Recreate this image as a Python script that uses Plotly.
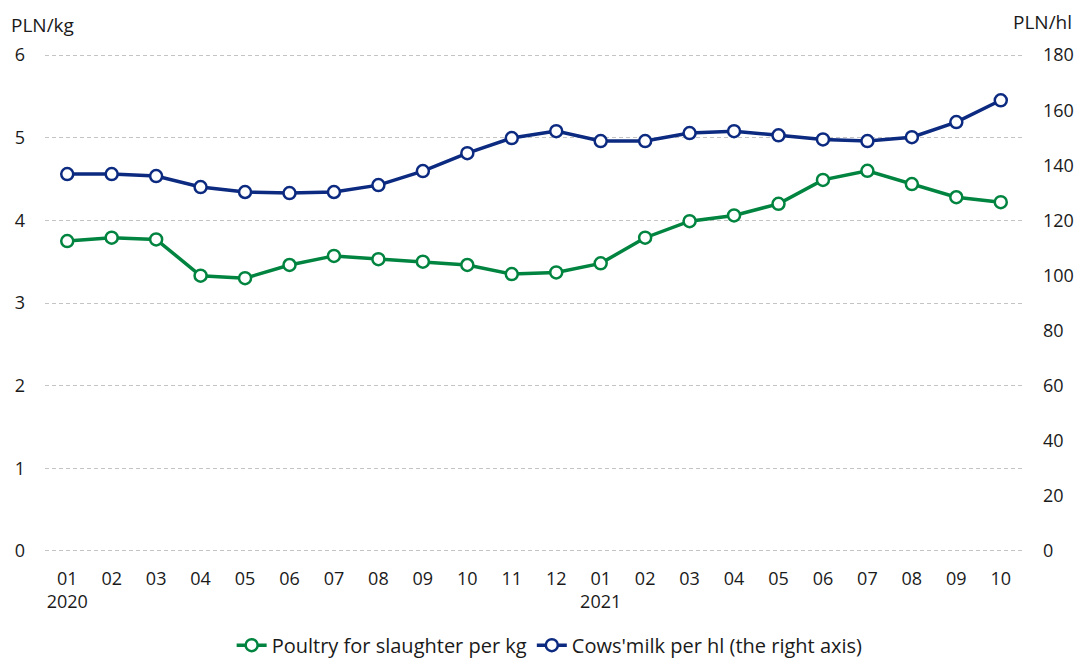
import plotly.graph_objects as go

months = ["01", "02", "03", "04", "05", "06", "07", "08", "09", "10", "11", "12",
          "01", "02", "03", "04", "05", "06", "07", "08", "09", "10"]
years = ["2020", "", "", "", "", "", "", "", "", "", "", "",
         "2021", "", "", "", "", "", "", "", "", ""]
poultry = [3.75, 3.79, 3.77, 3.33, 3.30, 3.46, 3.57, 3.53, 3.50, 3.46, 3.35, 3.37,
           3.48, 3.79, 3.99, 4.06, 4.20, 4.49, 4.60, 4.44, 4.28, 4.22]
milk = [136.8, 136.8, 136.1, 132.1, 130.3, 129.9, 130.3, 132.8, 137.9, 144.4, 149.9, 152.4,
        148.8, 148.8, 151.7, 152.4, 150.9, 149.4, 148.8, 150.2, 155.7, 163.6]

green = "#00843f"
navy = "#0b2a80"
FONT = "Open Sans"

x = list(range(len(months)))
ticktext = [m + ("<br>" + y if y else "") for m, y in zip(months, years)]

fig = go.Figure()
fig.add_trace(go.Scatter(
    x=x, y=poultry, name="Poultry for slaughter per kg", mode="lines+markers",
    line=dict(color=green, width=3.5),
    marker=dict(size=12, color="white", line=dict(color=green, width=2.5)),
))
fig.add_trace(go.Scatter(
    x=x, y=milk, name="Cows'milk per hl (the right axis)", mode="lines+markers", yaxis="y2",
    line=dict(color=navy, width=3.5),
    marker=dict(size=12, color="white", line=dict(color=navy, width=2.5)),
))

W, H = 1077, 658
L, R, T, B = 45, 54, 51, 103
fig.update_layout(
    width=W, height=H,
    margin=dict(l=L, r=R, t=T, b=B, autoexpand=False),
    plot_bgcolor="white", paper_bgcolor="white",
    font=dict(family=FONT, size=18, color="#1a1a1a"),
    xaxis=dict(tickmode="array", tickvals=x, ticktext=ticktext, range=[-0.5, 21.5],
               showgrid=False, zeroline=False, showline=False, ticks="",
               ticklabelstandoff=11, automargin=False, tickfont=dict(size=18)),
    yaxis=dict(range=[-0.05, 6.05], tickvals=[0, 1, 2, 3, 4, 5, 6], showgrid=True,
               gridcolor="#c4c4c4", griddash="4px,3px", gridwidth=1, zeroline=False,
               showline=False, ticks="", ticklabelstandoff=19, automargin=False,
               tickfont=dict(size=18)),
    yaxis2=dict(range=[-1.5, 181.5], tickvals=list(range(0, 181, 20)), overlaying="y",
                side="right", showgrid=False, zeroline=False, showline=False, ticks="",
                ticklabelstandoff=19, automargin=False, tickfont=dict(size=18)),
    legend=dict(orientation="h", x=0.516, xanchor="center", y=-0.179, yanchor="middle",
                font=dict(size=20), tracegroupgap=0),
    showlegend=True,
)
pw = W - L - R
ph = H - T - B
fig.add_annotation(text="PLN/kg", x=(9 - L) / pw, y=(H - B - 25) / ph, xref="paper",
                   yref="paper", showarrow=False, xanchor="left", yanchor="middle",
                   font=dict(size=19))
fig.add_annotation(text="PLN/hl", x=(1074 - L) / pw, y=(H - B - 22) / ph, xref="paper",
                   yref="paper", showarrow=False, xanchor="right", yanchor="middle",
                   font=dict(size=19))

fig.write_html(
    "out.html",
    config={"displayModeBar": False},
    post_script="document.documentElement.style.margin='0';document.body.style.margin='0';"
                "document.body.style.overflow='hidden';",
)
